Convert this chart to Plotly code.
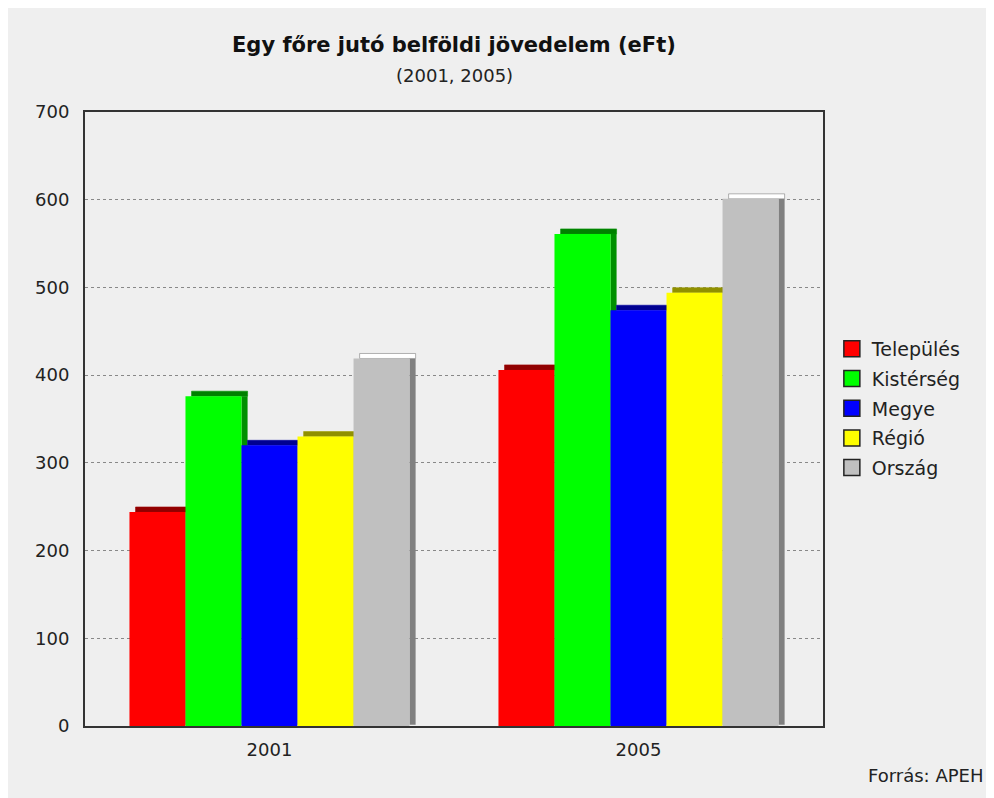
import plotly.graph_objects as go

years = ["2001", "2005"]
series = ["Település", "Kistérség", "Megye", "Régió", "Ország"]
telepules = [244, 406]
kisterseg = [376, 561]
megye = [320, 474]
regio = [330, 494]
orszag = [419, 601]
values = [telepules, kisterseg, megye, regio, orszag]

front_colors = ["#ff0000", "#00ff00", "#0000ff", "#ffff00", "#c0c0c0"]
side_colors = ["#a00000", "#009000", "#0000a0", "#a0a000", "#808080"]
top_colors = ["#900000", "#008000", "#000090", "#909000", "#ffffff"]

font = "DejaVu Sans"
W = 0.1518          # bar width in category units
DX = 0.0165         # depth (x)
DY = 5.7            # depth (y, data units)
xs = list(range(len(years)))

fig = go.Figure()
n = len(series)
for i, (name, vals) in enumerate(zip(series, values)):
    off = (i - (n - 1) / 2) * W
    left = [x + off - W / 2 for x in xs]
    # side face
    fig.add_trace(go.Bar(
        x=[l + W + DX / 2 for l in left], y=[v - DY / 4 for v in vals],
        base=[DY / 4] * len(vals), width=DX,
        marker=dict(color=side_colors[i], line=dict(width=0)),
        showlegend=False, hoverinfo="skip"))
    # top face
    fig.add_trace(go.Bar(
        x=[l + DX + W / 2 for l in left], y=[DY] * len(vals), base=vals, width=W,
        marker=dict(color=top_colors[i], line=dict(width=0.6, color=side_colors[i])),
        showlegend=False, hoverinfo="skip"))
    # front face
    fig.add_trace(go.Bar(
        x=[l + W / 2 for l in left], y=vals, width=W, name=name,
        marker=dict(color=front_colors[i], line=dict(width=0)),
        showlegend=False))

# legend entries
for i, name in enumerate(series):
    fig.add_trace(go.Scatter(
        x=[None], y=[None], mode="markers", name=name, legendgroup=name,
        marker=dict(symbol="square", size=19, color=front_colors[i],
                    line=dict(color="#222", width=1.5))))

fig.update_layout(
    width=994, height=798,
    barmode="overlay",
    paper_bgcolor="#efefef", plot_bgcolor="#efefef",
    margin=dict(l=77, r=179, t=104, b=80),
    font=dict(family=font, size=17, color="#222"),
    xaxis=dict(range=[-0.5, 1.5], tickvals=xs, ticktext=years, showgrid=False,
               zeroline=False, showline=True, linecolor="#333", linewidth=2, mirror=True,
               ticks="", ticklabelstandoff=6, tickfont=dict(size=18, color="#222")),
    yaxis=dict(range=[0, 700], dtick=100, showgrid=True, gridcolor="#888",
               griddash="dot", gridwidth=1, zeroline=False, showline=True,
               linecolor="#333", linewidth=2, mirror=True, ticks="",
               ticklabelstandoff=10, tickfont=dict(size=18, color="#222")),
    legend=dict(x=1.012, y=0.645, xanchor="left", yanchor="top",
                font=dict(size=19, color="#222"), bgcolor="rgba(0,0,0,0)",
                tracegroupgap=2, itemsizing="trace"),
    annotations=[
        dict(text="<b>Egy főre jutó belföldi jövedelem (eFt)</b>", xref="paper", yref="paper",
             x=0.5, y=1.109, xanchor="center", yanchor="middle", showarrow=False,
             font=dict(size=21, color="#111")),
        dict(text="(2001, 2005)", xref="paper", yref="paper",
             x=0.5, y=1.060, xanchor="center", yanchor="middle", showarrow=False,
             font=dict(size=18, color="#222")),
        dict(text="Forrás: APEH", xref="paper", yref="paper",
             x=1.2195, y=-0.08, xanchor="right", yanchor="middle",
             showarrow=False, font=dict(size=18, color="#222")),
    ],
)

fig.write_html("out.html")
